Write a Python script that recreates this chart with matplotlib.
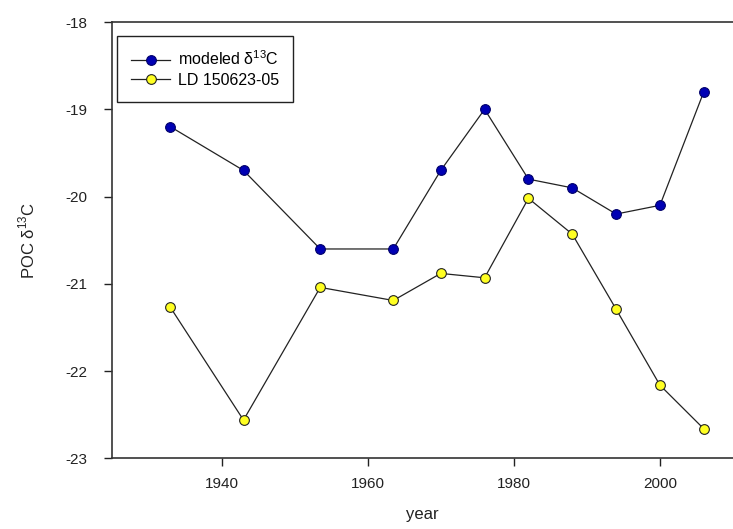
import matplotlib
matplotlib.use("Agg")
import matplotlib.pyplot as plt

plt.rcParams['font.family'] = ['Liberation Sans', 'DejaVu Sans']
plt.rcParams['mathtext.fontset'] = 'custom'
plt.rcParams['mathtext.rm'] = 'Liberation Sans'
plt.rcParams['axes.unicode_minus'] = False

years = [1933, 1943, 1953.5, 1963.5, 1970, 1976, 1982, 1988, 1994, 2000, 2006]
modeled = [-19.2, -19.7, -20.6, -20.6, -19.7, -19.0, -19.8, -19.9, -20.2, -20.1, -18.8]
ld = [-21.27, -22.56, -21.04, -21.19, -20.88, -20.93, -20.02, -20.43, -21.29, -22.16, -22.66]
xticks = [1940, 1960, 1980, 2000]
yticks = [-18, -19, -20, -21, -22, -23]

fig = plt.figure(figsize=(7.33, 5.29), dpi=100)
ax = fig.add_axes([0.1528, 0.1333, 0.8472, 0.8251])

ax.plot(years, modeled, '-', color='#222222', lw=0.9, marker='o', ms=7,
        mfc='#0000b4', mec='#00006a', mew=0.8, label='modeled δ$^{13}$C')
ax.plot(years, ld, '-', color='#222222', lw=0.9, marker='o', ms=7,
        mfc='#ffff22', mec='#222222', mew=0.8, label='LD 150623-05')

ax.set_xlim(1925, 2010)
ax.set_ylim(-23, -18)
ax.set_xticks(xticks)
ax.set_yticks(yticks)
ax.tick_params(axis='y', direction='out', length=6, width=1, pad=12, labelsize=11, colors='#222222')
ax.tick_params(axis='x', direction='out', length=6, width=1, pad=7, labelsize=11, colors='#222222')
for s in ['left', 'bottom', 'top']:
    ax.spines[s].set_linewidth(1.2)
    ax.spines[s].set_color('#333333')
ax.spines['right'].set_visible(False)

ax.set_xlabel('year', fontsize=12, labelpad=12, color='#222222')
ax.set_ylabel('POC δ$^{13}$C', fontsize=12, labelpad=20, color='#222222')

leg = ax.legend(loc='upper left', bbox_to_anchor=(0.008, 0.968), borderaxespad=0,
                fontsize=11.5, fancybox=False, framealpha=1, edgecolor='#222222',
                handlelength=2.5, handletextpad=0.5, borderpad=0.85, labelspacing=0.3)
leg.get_frame().set_linewidth(1.0)

fig.savefig('out.png', dpi=100)
